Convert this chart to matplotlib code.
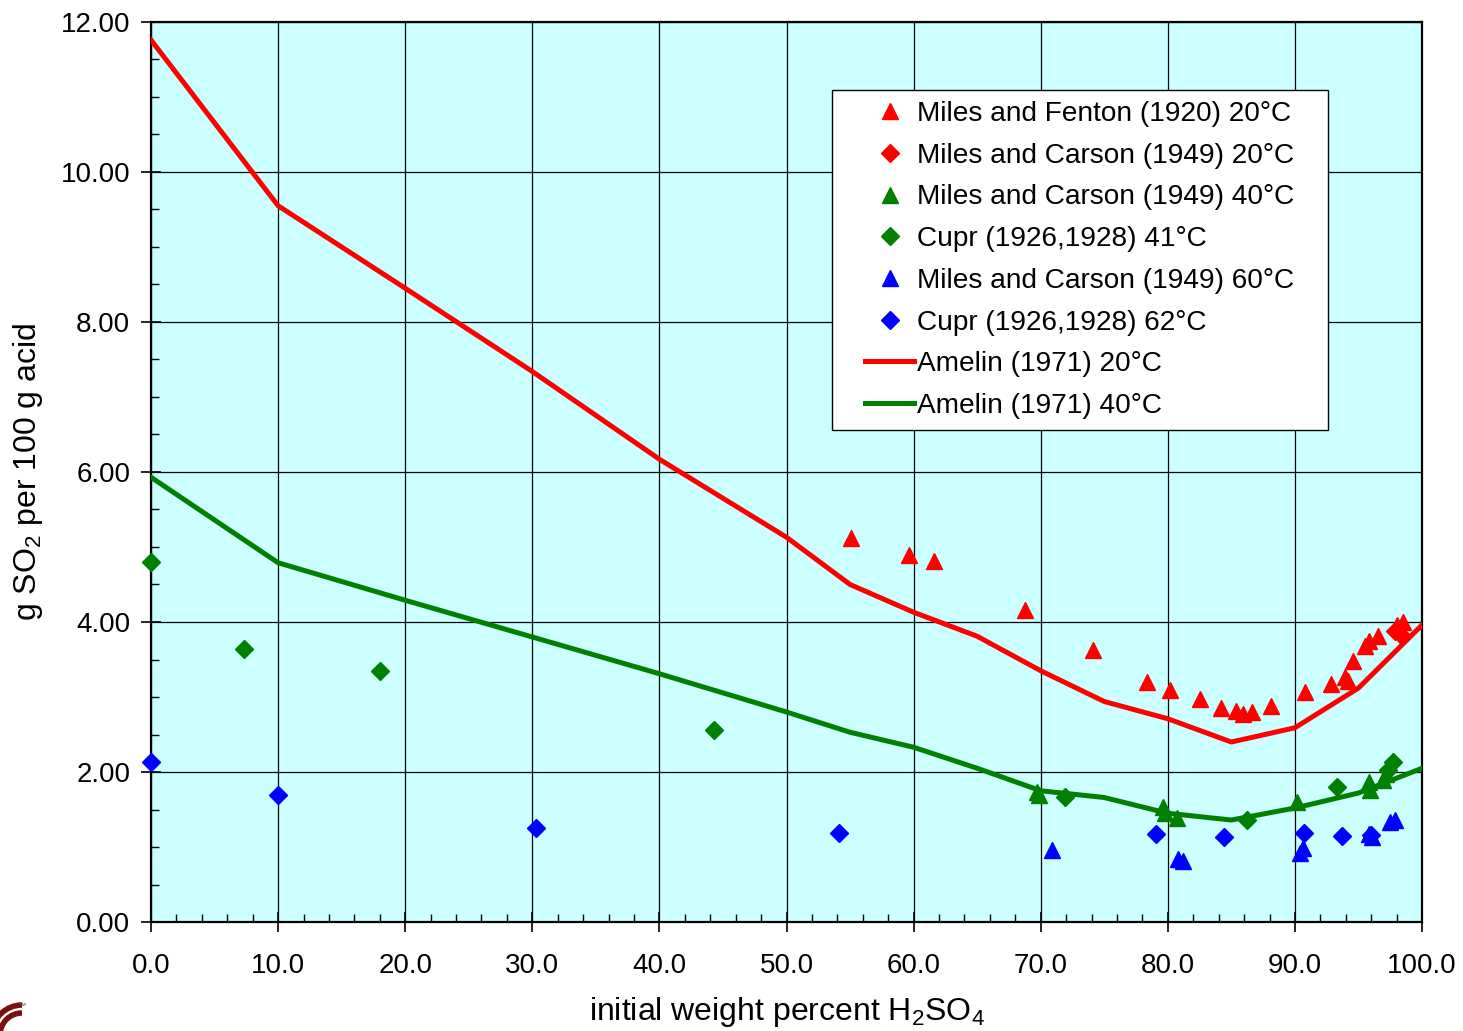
#!/usr/bin/env python3
"""SO2 solubility in sulfuric acid vs initial H2SO4 weight percent."""

import matplotlib
matplotlib.use('Agg')
import matplotlib.pyplot as plt
from matplotlib.lines import Line2D
from matplotlib.legend_handler import HandlerLine2D
from matplotlib.patches import Arc
from matplotlib.ticker import MultipleLocator, FormatStrFormatter

plt.rcParams['font.family'] = ['Liberation Sans', 'DejaVu Sans']
plt.rcParams['mathtext.fontset'] = 'custom'
plt.rcParams['mathtext.rm'] = 'Liberation Sans'
plt.rcParams['mathtext.it'] = 'Liberation Sans:italic'

# Miles and Fenton (1920) 20C
mf20_x = [55.1, 59.6, 61.6, 68.8, 74.1, 78.4, 80.2, 82.5, 84.2, 85.4, 85.9, 86.6,
          88.1, 90.8, 92.8, 93.9, 94.2, 94.6, 95.5, 95.8, 96.5, 98.0, 98.5]
mf20_y = [5.12, 4.89, 4.81, 4.16, 3.63, 3.20, 3.09, 2.97, 2.85, 2.81, 2.78, 2.80,
          2.88, 3.07, 3.18, 3.27, 3.22, 3.48, 3.68, 3.75, 3.81, 3.96, 4.00]

# Miles and Carson (1949) 20C
mc20_x = [97.9, 98.4]
mc20_y = [3.88, 3.82]

# Miles and Carson (1949) 40C
mc40_x = [69.7, 69.9, 79.6, 79.8, 80.7, 90.2, 95.8, 95.9, 96.9, 97.2]
mc40_y = [1.74, 1.70, 1.54, 1.45, 1.39, 1.60, 1.87, 1.76, 1.90, 1.98]

# Cupr (1926,1928) 41C
cu41_x = [0.0, 7.3, 18.0, 44.3, 71.9, 86.2, 93.3, 97.3, 97.7]
cu41_y = [4.80, 3.64, 3.35, 2.56, 1.67, 1.36, 1.80, 2.03, 2.13]

# Miles and Carson (1949) 60C
mc60_x = [70.9, 80.8, 81.2, 90.4, 90.6, 95.8, 96.1, 97.5, 97.9]
mc60_y = [0.96, 0.84, 0.82, 0.92, 0.99, 1.17, 1.14, 1.33, 1.36]

# Cupr (1926,1928) 62C
cu62_x = [0.0, 10.0, 30.3, 54.1, 79.1, 84.4, 90.7, 93.7, 96.0]
cu62_y = [2.13, 1.69, 1.25, 1.19, 1.17, 1.13, 1.19, 1.15, 1.16]

# Amelin (1971) curves
amelin_x = [0, 10, 20, 30, 40, 50, 55, 60, 65, 70, 75, 80, 85, 90, 95, 100]
amelin20_y = [11.76, 9.55, 8.45, 7.34, 6.17, 5.13, 4.50, 4.13, 3.81, 3.35, 2.94,
              2.71, 2.40, 2.59, 3.12, 3.96]
amelin40_y = [5.93, 4.79, 4.29, 3.80, 3.31, 2.80, 2.53, 2.33, 2.05, 1.75, 1.66,
              1.45, 1.36, 1.52, 1.72, 2.05]

fig = plt.figure(figsize=(14.63, 10.31), dpi=100)
ax = fig.add_axes([0.1032, 0.1057, 0.8688, 0.873])
ax.set_facecolor('#CCFFFF')

ms_tri = 12
ms_dia = 9
pad = '   '
ax.plot(mf20_x, mf20_y, '^', color='#FF0000', ms=ms_tri, ls='none', zorder=4,
        label='Miles and Fenton (1920) 20°C' + pad)
ax.plot(mc20_x, mc20_y, 'D', color='#FF0000', ms=ms_dia, ls='none', zorder=4,
        label='Miles and Carson (1949) 20°C' + pad)
ax.plot(mc40_x, mc40_y, '^', color='#008000', ms=ms_tri, ls='none', zorder=4,
        label='Miles and Carson (1949) 40°C' + pad)
ax.plot(cu41_x, cu41_y, 'D', color='#008000', ms=ms_dia, ls='none', zorder=4,
        label='Cupr (1926,1928) 41°C', clip_on=False)
ax.plot(mc60_x, mc60_y, '^', color='#0000FF', ms=ms_tri, ls='none', zorder=4,
        label='Miles and Carson (1949) 60°C' + pad)
ax.plot(cu62_x, cu62_y, 'D', color='#0000FF', ms=ms_dia, ls='none', zorder=4,
        label='Cupr (1926,1928) 62°C', clip_on=False)
ax.plot(amelin_x, amelin20_y, '-', color='#FF0000', lw=3.6, zorder=3,
        label='Amelin (1971) 20°C')
ax.plot(amelin_x, amelin40_y, '-', color='#008000', lw=3.6, zorder=3,
        label='Amelin (1971) 40°C')

ax.set_xlim(0, 100)
ax.set_ylim(0, 12)
ax.xaxis.set_major_locator(MultipleLocator(10))
ax.xaxis.set_minor_locator(MultipleLocator(2))
ax.yaxis.set_major_locator(MultipleLocator(2))
ax.yaxis.set_minor_locator(MultipleLocator(0.5))
ax.xaxis.set_major_formatter(FormatStrFormatter('%.1f'))
ax.yaxis.set_major_formatter(FormatStrFormatter('%.2f'))
ax.tick_params(which='major', direction='inout', length=14, width=1.2,
               labelsize=20)
ax.tick_params(axis='x', which='major', pad=15)
ax.tick_params(axis='y', which='major', pad=8)
ax.tick_params(which='minor', direction='in', length=6, width=1)
ax.grid(which='major', color='black', lw=0.9)
ax.set_axisbelow(True)
for s in ax.spines.values():
    s.set_linewidth(1.6)

ax.set_xlabel('initial weight percent H$_2$SO$_4$', fontsize=23, labelpad=12)
ax.set_ylabel('g SO$_2$ per 100 g acid', fontsize=23, labelpad=11)

leg = ax.legend(loc='upper right', bbox_to_anchor=(0.926, 0.924), fontsize=20.2,
                frameon=True, fancybox=False, edgecolor='black', framealpha=1,
                handlelength=2.55, handletextpad=0.1, labelspacing=0.56,
                borderpad=0.38, borderaxespad=0,
                handler_map={Line2D: HandlerLine2D(xpad=0.82)})
leg.get_frame().set_linewidth(1.0)

# cropped logo in the lower left corner
for r in (30, 22):
    fig.add_artist(Arc((22, -4), 2 * r, 2 * r, theta1=90, theta2=180,
                       transform=None, color='#7a1010', lw=4))
fig.text(0.012, 0.022, '™', fontsize=6, color='#555555')

fig.savefig('out.png', dpi=100)
